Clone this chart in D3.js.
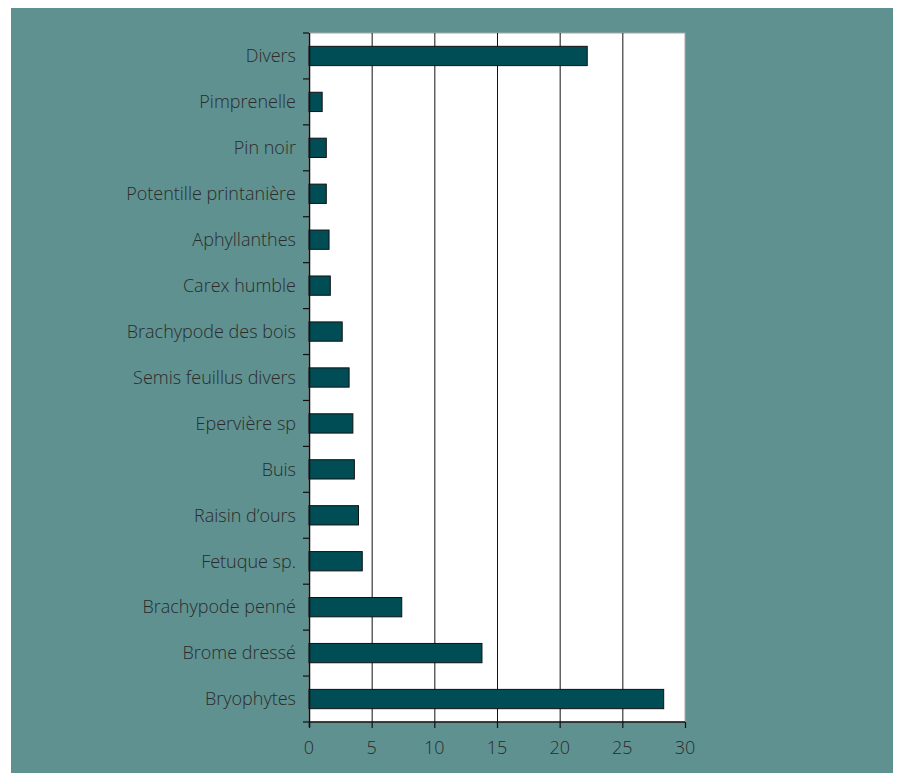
<!DOCTYPE html>
<html>
<head>
<meta charset="utf-8">
<script src="https://cdn.jsdelivr.net/npm/d3@7"></script>
<style>
  html, body { margin: 0; padding: 0; background: #ffffff; }
  svg { display: block; }
</style>
</head>
<body>
<svg id="chart" width="897" height="773"></svg>
<script>
const categories = [
  "Divers", "Pimprenelle", "Pin noir", "Potentille printanière", "Aphyllanthes",
  "Carex humble", "Brachypode des bois", "Semis feuillus divers", "Epervière sp",
  "Buis", "Raisin d’ours", "Fetuque sp.", "Brachypode penné", "Brome dressé", "Bryophytes"
];
const values = [22.2, 1.05, 1.38, 1.38, 1.6, 1.7, 2.65, 3.2, 3.5, 3.62, 3.95, 4.25, 7.4, 13.8, 28.3];
const xTicks = [0, 5, 10, 15, 20, 25, 30];

const svg = d3.select("#chart");
const W = 897, H = 773;
const FONT = "'Open Sans', Lato, sans-serif";

// teal panel
svg.append("rect").attr("x", 11).attr("y", 8).attr("width", 882).attr("height", H - 8)
  .attr("fill", "#5f9190");

const margin = { left: 309, top: 33, right: 685, bottom: 722 };

const x = d3.scaleLinear().domain([0, 30]).range([margin.left, margin.right]);
const y = d3.scaleBand().domain(categories).range([margin.top, margin.bottom]).paddingInner(0.58).paddingOuter(0.29);

// plot area
svg.append("rect").attr("x", margin.left).attr("y", margin.top)
  .attr("width", margin.right - margin.left).attr("height", margin.bottom - margin.top)
  .attr("fill", "#ffffff").attr("stroke", "#a8a8a8").attr("stroke-width", 1);

// gridlines
svg.append("g").selectAll("line").data(xTicks.filter(d => d > 0 && d < 30)).join("line")
  .attr("x1", d => x(d) + 0.5).attr("x2", d => x(d) + 0.5)
  .attr("y1", margin.top).attr("y2", margin.bottom)
  .attr("stroke", "#111").attr("stroke-width", 1);

// bars
svg.append("g").selectAll("rect").data(categories).join("rect")
  .attr("x", x(0))
  .attr("y", d => y(d))
  .attr("width", (d, i) => x(values[i]) - x(0))
  .attr("height", y.bandwidth())
  .attr("fill", "#004d55")
  .attr("stroke", "#111")
  .attr("stroke-width", 1);

// y axis line and ticks at band boundaries
const yAxisG = svg.append("g");
yAxisG.append("line").attr("x1", margin.left + 0.5).attr("x2", margin.left + 0.5)
  .attr("y1", margin.top).attr("y2", margin.bottom + 5).attr("stroke", "#111").attr("stroke-width", 1.5);
const step = (margin.bottom - margin.top) / categories.length;
const boundaries = d3.range(categories.length + 1).map(i => margin.top + i * step);
yAxisG.selectAll("line.tick").data(boundaries).join("line").attr("class", "tick")
  .attr("x1", margin.left - 6).attr("x2", margin.left)
  .attr("y1", d => d).attr("y2", d => d)
  .attr("stroke", "#111").attr("stroke-width", 1.2);

// y labels
yAxisG.selectAll("text").data(categories).join("text")
  .attr("x", margin.left - 13)
  .attr("y", d => y(d) + y.bandwidth() / 2)
  .attr("dy", "0.35em")
  .attr("text-anchor", "end")
  .attr("font-family", FONT)
  .attr("font-weight", 300)
  .attr("font-size", 18)
  .attr("fill", "#2b2b2b")
  .text(d => d);

// x axis
const xAxisG = svg.append("g");
xAxisG.append("line").attr("x1", margin.left).attr("x2", margin.right)
  .attr("y1", margin.bottom).attr("y2", margin.bottom).attr("stroke", "#111").attr("stroke-width", 1.5);
xAxisG.selectAll("line.tick").data(xTicks).join("line").attr("class", "tick")
  .attr("x1", d => x(d) + 0.5).attr("x2", d => x(d) + 0.5)
  .attr("y1", margin.bottom).attr("y2", margin.bottom + 6)
  .attr("stroke", "#111").attr("stroke-width", 1.2);
xAxisG.selectAll("text").data(xTicks).join("text")
  .attr("x", d => x(d))
  .attr("y", margin.bottom + 26)
  .attr("dy", "0.35em")
  .attr("text-anchor", "middle")
  .attr("font-family", FONT)
  .attr("font-weight", 300)
  .attr("font-size", 18)
  .attr("fill", "#2b2b2b")
  .text(d => d);
</script>
</body>
</html>
